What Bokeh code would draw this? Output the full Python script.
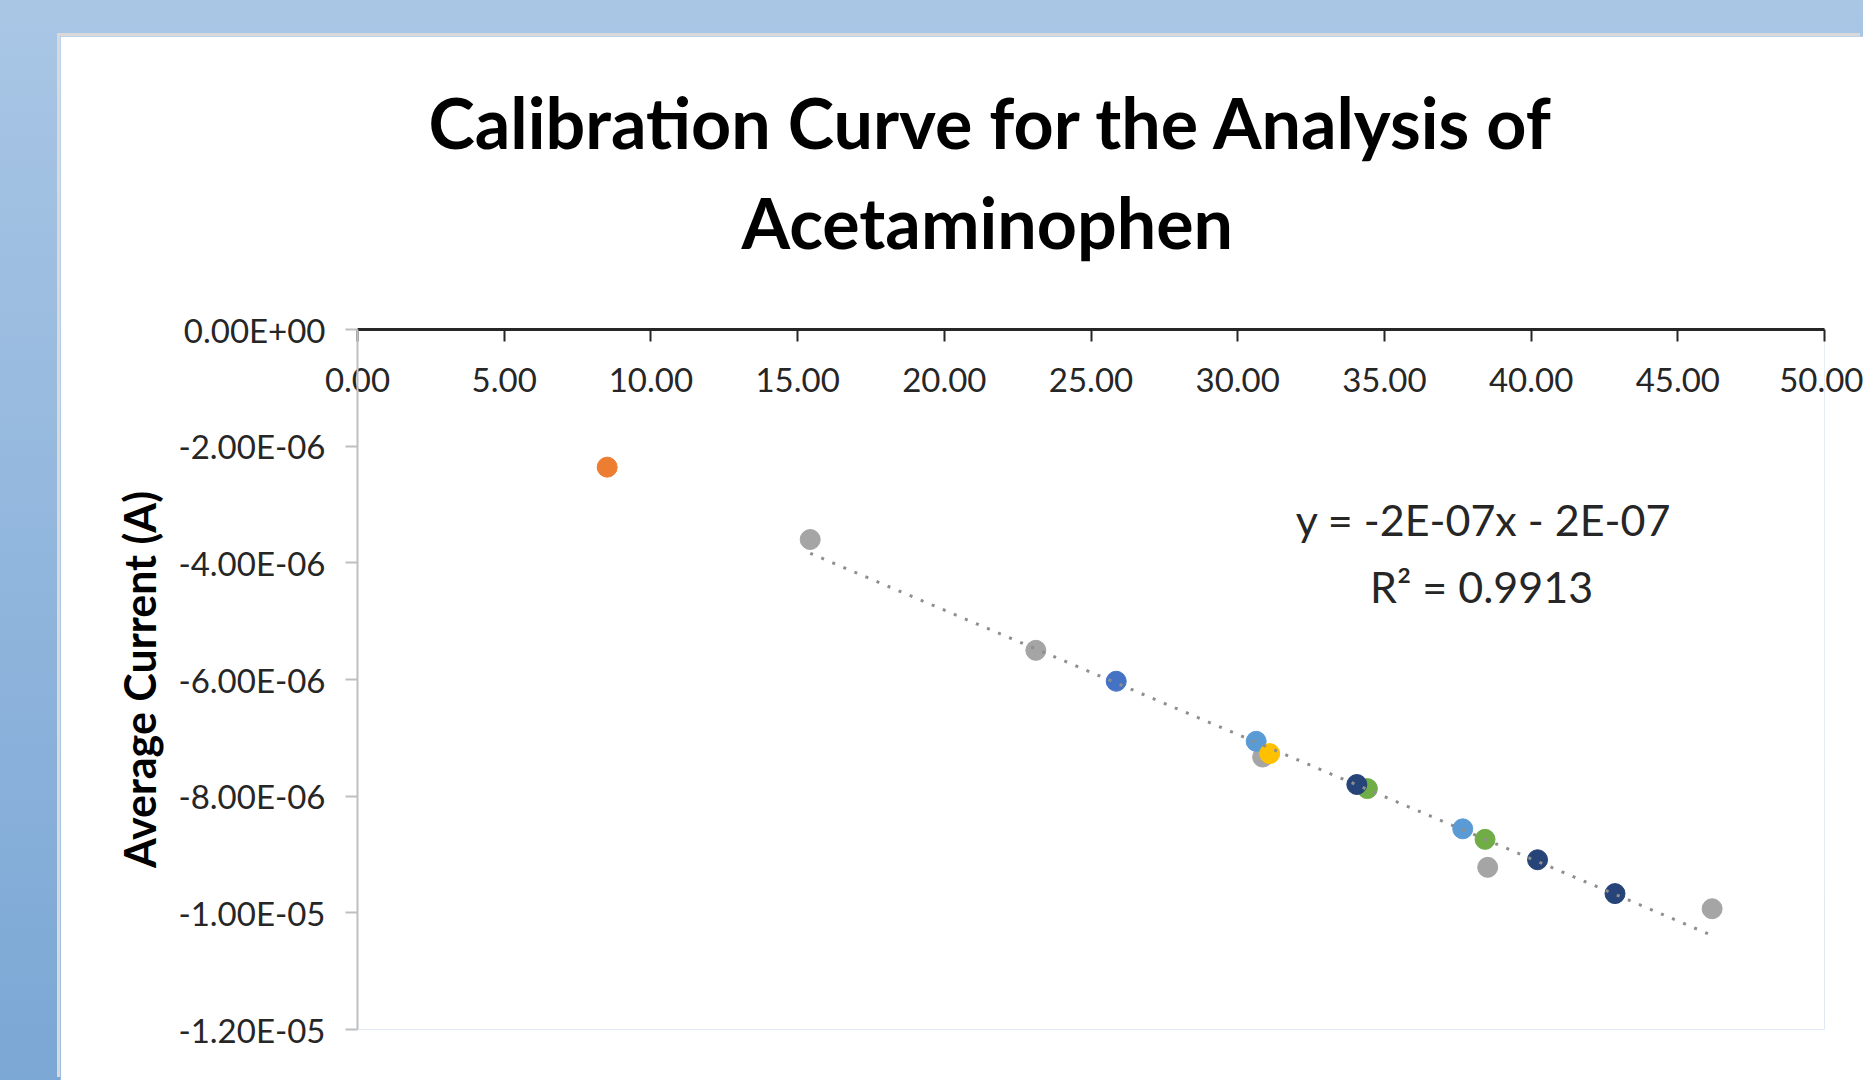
import numpy as np
from bokeh.plotting import figure
from bokeh.models import Range1d, FixedTicker, PrintfTickFormatter, CustomJSTickFormatter, Label, Title
from bokeh.layouts import column
from bokeh.embed import file_html
from bokeh.resources import INLINE

# ---------------- data ----------------
title_lines = ["Calibration Curve for the Analysis of", "Acetaminophen"]
y_axis_title = "Average Current (A)"
equation_text = "y = -2E-07x - 2E-07"
r2_text = "R\u00b2 = 0.9913"

x_ticks = [0, 5, 10, 15, 20, 25, 30, 35, 40, 45, 50]
y_ticks = [0.0, -2e-6, -4e-6, -6e-6, -8e-6, -1e-5, -1.2e-5]

blue_x = [25.86]
blue_y = [-6.03e-6]
orange_x = [8.51]
orange_y = [-2.36e-6]
grey_x = [15.43, 23.12, 30.85, 38.52, 46.17]
grey_y = [-3.60e-6, -5.50e-6, -7.33e-6, -9.22e-6, -9.93e-6]
lightblue_x = [30.63, 37.67]
lightblue_y = [-7.06e-6, -8.56e-6]
yellow_x = [31.09]
yellow_y = [-7.27e-6]
green_x = [34.42, 38.43]
green_y = [-7.87e-6, -8.74e-6]
navy_x = [34.06, 40.22, 42.86]
navy_y = [-7.80e-6, -9.09e-6, -9.67e-6]

series = [
    (blue_x, blue_y, "#4472C4"),
    (orange_x, orange_y, "#ED7D31"),
    (grey_x, grey_y, "#A5A5A5"),
    (lightblue_x, lightblue_y, "#5B9BD5"),
    (yellow_x, yellow_y, "#FFC000"),
    (green_x, green_y, "#70AD47"),
    (navy_x, navy_y, "#264478"),
]

# linear trend line fitted to the grey series
slope, intercept = np.polyfit(grey_x, grey_y, 1)
trend_x = [min(grey_x), max(grey_x)]
trend_y = [slope * v + intercept for v in trend_x]

# ---------------- figure ----------------
p = figure(
    width=1803, height=1044,
    x_range=Range1d(0, 50), y_range=Range1d(-1.2e-5, 0),
    x_axis_location="above",
    output_backend="svg", toolbar_location=None,
    min_border_left=297, min_border_right=39, min_border_top=293, min_border_bottom=51,
    background_fill_color="white", border_fill_color="white",
)
p.outline_line_color = None
p.grid.visible = False
p.margin = (36, 0, 0, 60)
p.styles = {"box-shadow": "-3px -3px 0 0 #d9d9d9"}

xa = p.xaxis[0]
xa.ticker = FixedTicker(ticks=x_ticks)
xa.formatter = PrintfTickFormatter(format="%.2f")
xa.axis_line_color = "#262626"
xa.axis_line_width = 3
xa.major_tick_line_color = "#262626"
xa.major_tick_line_width = 2
xa.major_tick_in = 12
xa.major_tick_out = 0
xa.minor_tick_line_color = None
xa.major_label_standoff = -62
xa.major_label_text_font = "Lato"
xa.major_label_text_font_size = "33px"
xa.major_label_text_color = "#262626"

ya = p.yaxis[0]
ya.ticker = FixedTicker(ticks=y_ticks)
ya.formatter = CustomJSTickFormatter(code="""
const s = tick.toExponential(2);
const parts = s.split("e");
const n = parseInt(parts[1]);
const a = Math.abs(n);
return parts[0] + "E" + (n < 0 ? "-" : "+") + (a < 10 ? "0" + a : String(a));
""")
ya.axis_line_color = "#bfbfbf"
ya.axis_line_width = 2
ya.major_tick_line_color = "#bfbfbf"
ya.major_tick_line_width = 2
ya.major_tick_in = 0
ya.major_tick_out = 12
ya.minor_tick_line_color = None
ya.major_label_standoff = 20
ya.major_label_text_font = "Lato"
ya.major_label_text_font_size = "33px"
ya.major_label_text_color = "#262626"
ya.axis_label = y_axis_title
ya.axis_label_text_font = "Lato"
ya.axis_label_text_font_style = "bold"
ya.axis_label_text_font_size = "43px"
ya.axis_label_text_color = "#000000"
ya.axis_label_standoff = 10

for xs, ys, c in series:
    p.scatter(xs, ys, size=20, fill_color=c, line_color=c, line_width=1)

p.line(trend_x, trend_y, line_color="#8f8f8f", line_width=3, line_dash="3 9")

# two-line chart title (second line added first: it sits nearest the plot)
p.add_layout(Title(text=title_lines[1], align="left", offset=384, standoff=132,
                   text_font="Lato", text_font_style="bold", text_font_size="70px",
                   text_color="#000000"), "above")
p.add_layout(Title(text=title_lines[0], align="left", offset=71, standoff=-105,
                   text_font="Lato", text_font_style="bold", text_font_size="70px",
                   text_color="#000000"), "above")

# trendline equation
p.add_layout(Label(x=38.38, y=-3.256e-6, text=equation_text, text_align="center", text_baseline="middle",
                   text_font="Lato", text_font_size="43px", text_color="#262626"))
p.add_layout(Label(x=38.31, y=-4.40e-6, text=r2_text, text_align="center", text_baseline="middle",
                   text_font="Lato", text_font_size="43px", text_color="#262626"))

root = column(p, width=1863, height=1080,
              styles={"background": "linear-gradient(180deg, #a9c6e5 0%, #7ba7d5 100%)"})

open("out.html", "w").write(file_html(root, INLINE))
